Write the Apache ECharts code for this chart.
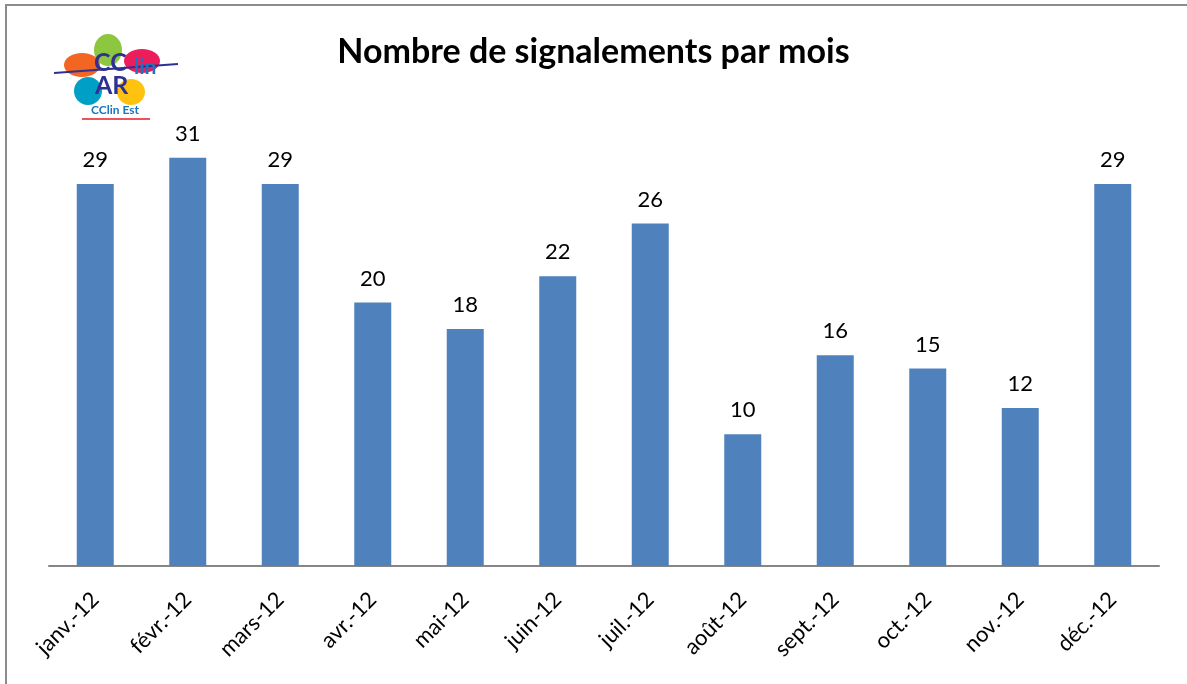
<!DOCTYPE html>
<html lang="fr">
<head>
<meta charset="UTF-8">
<title>Nombre de signalements par mois</title>
<script src="https://cdn.jsdelivr.net/npm/echarts@6/dist/echarts.min.js"></script>
<style>
    html, body { margin: 0; padding: 0; background: #fff; }
    #chart { width: 1187px; height: 684px; }
</style>
</head>
<body>
<div id="chart"></div>
<script>
    // données
    var mois = ['janv.-12', 'févr.-12', 'mars-12', 'avr.-12', 'mai-12', 'juin-12',
                'juil.-12', 'août-12', 'sept.-12', 'oct.-12', 'nov.-12', 'déc.-12'];
    var signalements = [29, 31, 29, 20, 18, 22, 26, 10, 16, 15, 12, 29];

    var police = 'Lato, "Liberation Sans", sans-serif';
    var myChart = echarts.init(document.getElementById('chart'));

    var option = {
        animation: false,
        title: {
            text: 'Nombre de signalements par mois',
            left: 'center',
            top: 30,
            textStyle: { fontFamily: police, fontSize: 34, fontWeight: 'bold', color: '#000' }
        },
        grid: { left: 49, right: 28, top: 105, bottom: 118 },
        xAxis: {
            type: 'category',
            data: mois,
            axisLine: { lineStyle: { color: '#868686', width: 2 } },
            axisTick: { show: false },
            axisLabel: {
                rotate: 45,
                interval: 0,
                margin: 30,
                fontFamily: police,
                fontSize: 22,
                color: '#000'
            }
        },
        yAxis: {
            type: 'value',
            min: 0,
            max: 35,
            show: false
        },
        series: [{
            type: 'bar',
            data: signalements,
            barWidth: '40%',
            itemStyle: { color: '#4F81BD' },
            label: {
                show: true,
                position: 'top',
                distance: 13,
                fontFamily: police,
                fontSize: 22,
                color: '#000'
            }
        }],
        // cadre + logo CClin
        graphic: [
            { type: 'rect', shape: { x: 6, y: 5, width: 1200, height: 720 },
              style: { fill: 'none', stroke: '#8c8c8c', lineWidth: 2 }, z: 0 },
            { type: 'ellipse', shape: { cx: 108, cy: 50, rx: 14, ry: 16 }, style: { fill: '#8dc63f' } },
            { type: 'ellipse', shape: { cx: 82, cy: 65, rx: 18, ry: 12 }, style: { fill: '#f26522' } },
            { type: 'ellipse', shape: { cx: 142, cy: 61, rx: 18, ry: 12 }, style: { fill: '#ed1c5a' } },
            { type: 'ellipse', shape: { cx: 88, cy: 91, rx: 14, ry: 14 }, style: { fill: '#00a0c6' } },
            { type: 'ellipse', shape: { cx: 131, cy: 92, rx: 14, ry: 13 }, style: { fill: '#ffc20e' } },
            { type: 'line', shape: { x1: 54, y1: 73, x2: 178, y2: 64 },
              style: { stroke: '#2e3192', lineWidth: 2 } },
            { type: 'text', left: 94, top: 50,
              style: { text: 'CC', font: 'bold 25px ' + police, fill: '#2e3192' } },
            { type: 'text', left: 134, top: 57,
              style: { text: 'lin', font: 'bold 21px ' + police, fill: '#1b75bc' } },
            { type: 'text', left: 95, top: 73,
              style: { text: 'AR', font: 'bold 25px ' + police, fill: '#2e3192' } },
            { type: 'text', left: 91, top: 104,
              style: { text: 'CClin Est', font: 'bold 12px ' + police, fill: '#1b75bc' } },
            { type: 'line', shape: { x1: 82, y1: 119, x2: 150, y2: 119 },
              style: { stroke: '#e31b23', lineWidth: 1.5 } }
        ]
    };

    myChart.setOption(option);
</script>
</body>
</html>
